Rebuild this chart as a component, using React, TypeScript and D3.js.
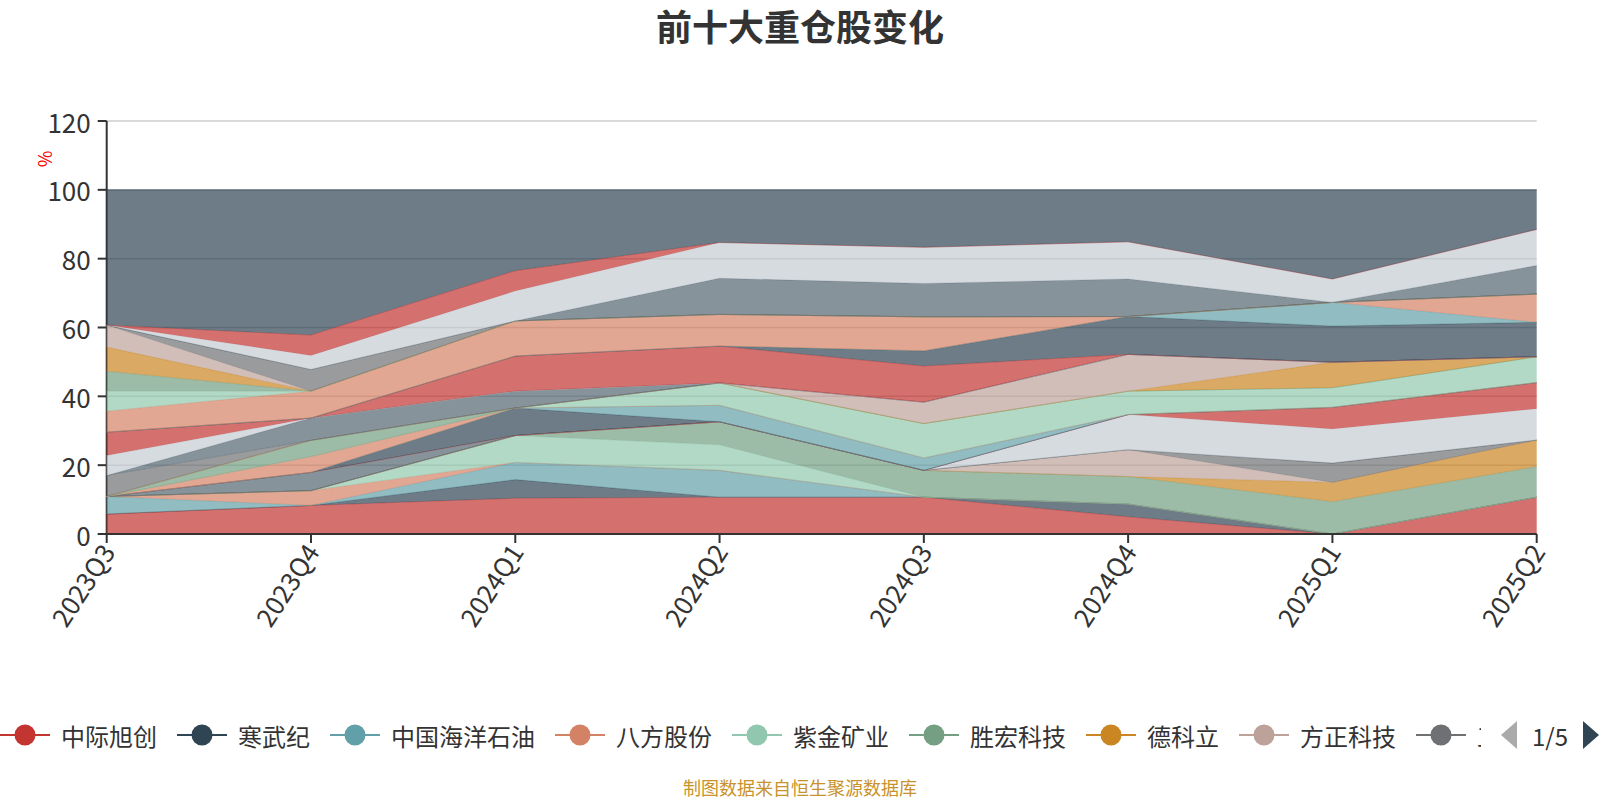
import React, { useRef, useEffect } from 'react';
import * as d3 from 'd3';

// Quarters on the x axis
const quarters = ['2023Q3', '2023Q4', '2024Q1', '2024Q2', '2024Q3', '2024Q4', '2025Q1', '2025Q2'];

// Series in stacking order (bottom to top); only the first page of the legend is visible
const stockNames = [
  '中际旭创', '寒武纪', '中国海洋石油', '八方股份', '紫金矿业', '胜宏科技', '德科立', '方正科技', '工业富联',
  '持仓10', '持仓11', '持仓12', '持仓13', '持仓14', '持仓15', '持仓16', '持仓17', '持仓18', '持仓19',
  '持仓20', '持仓21', '持仓22', '持仓23', '持仓24', '持仓25', '持仓26', '持仓27', '持仓28', '持仓29',
  '持仓30', '持仓31', '持仓32', '持仓33', '持仓34', '其他',
];

// Share (%) per quarter, one row per series, same order as stockNames
const holdings: number[][] = [
  [5.8, 8.3, 10.4, 10.7, 10.7, 5.0, 0, 10.7],
  [0, 0, 5.4, 0, 0, 3.7, 0, 0],
  [5.1, 0, 5.0, 7.8, 0, 0, 0, 0],
  [0, 4.3, 0, 0, 0, 0, 0, 0],
  [0, 0, 7.8, 7.4, 0, 0, 0, 0],
  [0, 0, 0, 6.7, 7.8, 8.0, 9.4, 8.9],
  [0, 0, 0, 0, 0, 0, 5.6, 7.7],
  [0, 0, 0, 0, 0, 7.8, 0, 0],
  [0, 0, 0, 0, 0, 0, 5.6, 0],
  [0, 5.3, 0, 0, 0, 0, 0, 0],
  [0, 0, 0, 0, 0, 10.2, 9.9, 9.1],
  [0, 0, 0, 0, 0, 0, 6.3, 7.6],
  [0, 0, 8.0, 0, 0, 0, 0, 0],
  [0, 0, 0, 4.8, 3.6, 0, 0, 0],
  [0, 4.6, 0, 0, 0, 0, 0, 0],
  [0, 0, 0, 6.5, 10.0, 6.8, 5.7, 7.5],
  [0, 4.7, 0, 0, 0, 0, 0, 0],
  [0, 0, 0, 0, 0, 0, 7.4, 0],
  [0, 0, 0, 0, 6.2, 10.7, 0, 0],
  [6.1, 0, 0, 0, 0, 0, 0, 0],
  [0, 6.5, 4.9, 0, 0, 0, 0, 0],
  [5.8, 0, 0, 0, 0, 0, 0, 0],
  [6.8, 0, 10.2, 10.7, 10.5, 0, 0, 0],
  [0, 0, 0, 0, 4.4, 11.0, 10.5, 10.0],
  [0, 0, 0, 0, 0, 0, 6.9, 0],
  [6.1, 7.8, 10.2, 9.2, 9.9, 0, 0, 8.2],
  [5.8, 0, 0, 0, 0, 0, 0, 0],
  [5.8, 0, 0, 0, 0, 0, 0, 0],
  [7.0, 0, 0, 0, 0, 0, 0, 0],
  [6.4, 0, 0, 0, 0, 0, 0, 0],
  [0, 6.3, 0, 0, 0, 0, 0, 0],
  [0, 0, 0, 10.5, 9.7, 10.9, 0, 8.3],
  [0, 4.1, 8.7, 10.4, 10.5, 10.8, 6.8, 10.5],
  [0, 5.9, 5.9, 0, 0, 0, 0, 0],
  [39.3, 42.2, 23.5, 15.3, 16.7, 15.1, 25.9, 11.5],
];

const yTicks = [0, 20, 40, 60, 80, 100, 120];
const legendPage = '1/5';

const palette = ['#c23531', '#2f4554', '#61a0a8', '#d48265', '#91c7ae', '#749f83', '#ca8622', '#bda29a', '#6e7074', '#546570', '#c4ccd3'];

const WIDTH = 1600;
const HEIGHT = 800;
const FONT = '"Noto Sans CJK SC", "Noto Sans", sans-serif';

const StackedHoldingsChart: React.FC = () => {
  const svgRef = useRef<SVGSVGElement>(null);

  useEffect(() => {
    if (!svgRef.current) return;
    const svg = d3.select(svgRef.current);
    svg.selectAll('*').remove();

    const left = 106.7;
    const right = 1536.7;
    const top = 121;
    const bottom = 534;

    const x = d3.scalePoint<string>().domain(quarters).range([left, right]);
    const y = d3.scaleLinear().domain([0, 120]).range([bottom, top]);

    // rows for d3.stack
    const rows = quarters.map((q, qi) => {
      const row: any = { quarter: q };
      stockNames.forEach((name, si) => { row[name] = holdings[si][qi]; });
      return row;
    });
    const layers = d3.stack<any>().keys(stockNames)(rows);

    // title
    svg.append('text')
      .attr('x', WIDTH / 2)
      .attr('y', 25)
      .attr('text-anchor', 'middle')
      .attr('dominant-baseline', 'central')
      .attr('font-size', 36)
      .attr('font-weight', 'bold')
      .attr('fill', '#333')
      .text('前十大重仓股变化');

    // split lines
    yTicks.filter(t => t > 0).forEach(t => {
      svg.append('line')
        .attr('x1', left).attr('x2', right)
        .attr('y1', y(t)).attr('y2', y(t))
        .attr('stroke', '#ccc')
        .attr('stroke-width', 1.5);
    });

    // y axis
    svg.append('line')
      .attr('x1', left).attr('x2', left)
      .attr('y1', top).attr('y2', bottom)
      .attr('stroke', '#333')
      .attr('stroke-width', 2);
    yTicks.forEach(t => {
      svg.append('line')
        .attr('x1', left - 9).attr('x2', left)
        .attr('y1', y(t)).attr('y2', y(t))
        .attr('stroke', '#333')
        .attr('stroke-width', 2);
      svg.append('text')
        .attr('x', left - 16)
        .attr('y', y(t))
        .attr('text-anchor', 'end')
        .attr('dominant-baseline', 'central')
        .attr('font-size', 26)
        .attr('fill', '#333')
        .text(t);
    });

    // axis name
    svg.append('text')
      .attr('transform', `translate(44, 159) rotate(-90)`)
      .attr('text-anchor', 'middle')
      .attr('dominant-baseline', 'central')
      .attr('font-size', 18)
      .attr('fill', 'red')
      .text('%');

    // stacked areas
    const area = d3.area<any>()
      .x(d => x(d.data.quarter) as number)
      .y0(d => y(d[0]))
      .y1(d => y(d[1]));
    const line = d3.line<any>()
      .x(d => x(d.data.quarter) as number)
      .y(d => y(d[1]));

    layers.forEach((layer, i) => {
      const color = palette[i % palette.length];
      svg.append('path')
        .attr('d', area(layer) as string)
        .attr('fill', color)
        .attr('fill-opacity', 0.7);
      svg.append('path')
        .attr('d', line(layer) as string)
        .attr('fill', 'none')
        .attr('stroke', color)
        .attr('stroke-opacity', 0.5)
        .attr('stroke-width', 1);
    });

    // x axis
    svg.append('line')
      .attr('x1', left).attr('x2', right)
      .attr('y1', bottom).attr('y2', bottom)
      .attr('stroke', '#333')
      .attr('stroke-width', 2);
    quarters.forEach(q => {
      const px = x(q) as number;
      svg.append('line')
        .attr('x1', px).attr('x2', px)
        .attr('y1', bottom).attr('y2', bottom + 9)
        .attr('stroke', '#333')
        .attr('stroke-width', 2);
      svg.append('text')
        .attr('transform', `translate(${px}, ${bottom + 12}) rotate(-57)`)
        .attr('text-anchor', 'end')
        .attr('dominant-baseline', 'central')
        .attr('font-size', 26)
        .attr('fill', '#333')
        .text(q);
    });

    // legend (first page, clipped at the page controls)
    const legendY = 735;
    const clipRight = 1481;
    svg.append('clipPath').attr('id', 'legend-clip')
      .append('rect').attr('x', 0).attr('y', legendY - 20).attr('width', clipRight).attr('height', 40);
    const legend = svg.append('g').attr('clip-path', 'url(#legend-clip)');
    let lx = 0;
    stockNames.slice(0, 9).forEach((name, i) => {
      const color = palette[i % palette.length];
      legend.append('line')
        .attr('x1', lx).attr('x2', lx + 50)
        .attr('y1', legendY).attr('y2', legendY)
        .attr('stroke', color)
        .attr('stroke-width', 2);
      legend.append('circle')
        .attr('cx', lx + 25).attr('cy', legendY)
        .attr('r', 10.5)
        .attr('fill', color);
      const tx = lx + 61;
      const fits = Math.max(0, Math.ceil((clipRight - tx) / 24));
      legend.append('text')
        .attr('x', tx)
        .attr('y', legendY)
        .attr('dominant-baseline', 'central')
        .attr('font-size', 24)
        .attr('fill', '#333')
        .text(name.slice(0, fits));
      lx += 61 + name.length * 24 + 20;
    });

    // page controls
    svg.append('path')
      .attr('d', `M1517,${legendY - 14} L1501,${legendY} L1517,${legendY + 14} Z`)
      .attr('fill', '#aaa');
    svg.append('text')
      .attr('x', 1550)
      .attr('y', legendY)
      .attr('text-anchor', 'middle')
      .attr('dominant-baseline', 'central')
      .attr('font-size', 24)
      .attr('fill', '#333')
      .text(legendPage);
    svg.append('path')
      .attr('d', `M1583,${legendY - 14} L1599,${legendY} L1583,${legendY + 14} Z`)
      .attr('fill', '#2f4554');

    // source note
    svg.append('text')
      .attr('x', WIDTH / 2)
      .attr('y', 787)
      .attr('text-anchor', 'middle')
      .attr('dominant-baseline', 'central')
      .attr('font-size', 18)
      .attr('fill', '#c8922c')
      .text('制图数据来自恒生聚源数据库');
  }, []);

  return (
    <svg
      ref={svgRef}
      width={WIDTH}
      height={HEIGHT}
      style={{ position: 'absolute', left: 0, top: 0, background: '#fff', fontFamily: FONT }}
    />
  );
};

export default function App() {
  return <StackedHoldingsChart />;
}
